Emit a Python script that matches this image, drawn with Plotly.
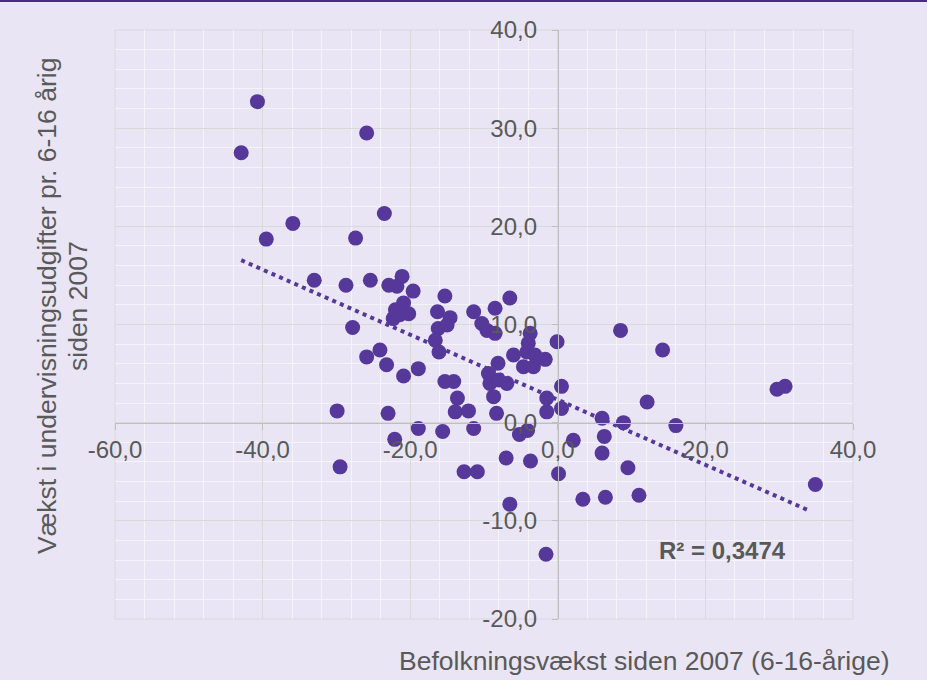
import numpy as np
import plotly.graph_objects as go

# Befolkningsvækst siden 2007 (6-16-årige), pct.
x_growth = [
    -42.9, -40.7, -39.5, -35.9, -33.0, -28.7, -29.9, -29.5, -27.8, -27.4,
    -25.9, -25.4, -25.9, -24.1, -23.5, -23.2, -23.0, -22.9, -21.8, -21.1,
    -22.1, -20.9, -22.0, -20.2, -22.3, -21.4, -19.6, -20.9, -18.9, -18.9,
    -16.3, -15.3, -14.6, -16.2, -15.0, -16.6, -16.1, -15.3, -14.1, -15.6,
    -13.6, -13.9, -12.1, -11.4, -12.7, -10.9, -11.4, -8.5, -6.5, -10.3,
    -9.6, -8.5, -9.4, -9.2, -8.0, -6.9, -8.1, -8.7, -8.3, -7.0,
    -6.5, -6.0, -3.75, -4.0, -4.2, -3.1, -1.7, -4.65, -3.3, -0.1,
    -1.5, -1.5, 0.5, 0.5, -5.2, -4.1, -3.7, 0.1, -1.6, 2.1,
    3.4, 6.0, 6.3, 6.0, 6.45, 8.9, 8.5, 9.5, 11.0, 12.1,
    14.2, 16.0, 29.7, 30.8, 34.9,
]
# Vækst i undervisningsudgifter pr. 6-16 årig siden 2007, pct.
y_spend = [
    27.5, 32.7, 18.7, 20.3, 14.5, 14.0, 1.2, -4.5, 9.7, 18.8,
    29.5, 14.5, 6.7, 7.4, 21.3, 5.9, 0.95, 14.0, 13.9, 14.9,
    -1.7, 12.2, 11.5, 11.1, 10.6, 11.0, 13.4, 4.75, 5.5, -0.6,
    11.3, 12.9, 10.7, 9.6, 9.95, 8.4, 7.2, 4.2, 4.2, -0.9,
    2.5, 1.1, 1.2, -0.6, -5.0, -5.0, 11.3, 11.65, 12.7, 10.1,
    9.4, 9.1, 5.0, 4.0, 4.35, 4.0, 6.05, 2.65, 0.95, -3.6,
    -8.3, 6.9, 9.1, 8.1, 7.2, 6.9, 6.45, 5.7, 5.7, 8.25,
    2.5, 1.1, 3.7, 1.45, -1.2, -0.8, -3.9, -5.2, -13.4, -1.8,
    -7.8, 0.45, -1.4, -3.1, -7.6, 0.0, 9.4, -4.6, -7.4, 2.1,
    7.4, -0.3, 3.4, 3.7, -6.3,
]

x_tick_vals = [-60, -40, -20, 0, 20, 40]
x_tick_text = ["-60,0", "-40,0", "-20,0", "0,0", "20,0", "40,0"]
y_tick_vals = [-20, -10, 0, 10, 20, 30, 40]
y_tick_text = ["-20,0", "-10,0", "0,0", "10,0", "20,0", "30,0", "40,0"]

x_title = "Befolkningsvækst siden 2007 (6-16-årige)"
y_title_lines = ["Vækst i undervisningsudgifter pr. 6-16 årig", "siden 2007"]
r2_label = "R² = 0,3474"

PURPLE = "#55389A"
BG = "#E9E5F4"
TXT = "#595959"
FONT = "Liberation Sans, Arial, sans-serif"

xa = np.array(x_growth)
ya = np.array(y_spend)
slope, intercept = np.polyfit(xa, ya, 1)
trend_x = np.array([xa.min(), xa.max() - 0.8])
trend_y = slope * trend_x + intercept

fig = go.Figure()
fig.add_trace(go.Scatter(
    x=trend_x, y=trend_y, mode="lines",
    line=dict(color=PURPLE, width=4, dash="4px,4.3px"),
    hoverinfo="skip", showlegend=False,
))
fig.add_trace(go.Scatter(
    x=x_growth, y=y_spend, mode="markers",
    marker=dict(color=PURPLE, size=15, line=dict(width=0)),
    showlegend=False,
))

xmin, xmax = -60, 40
ymin, ymax = -20, 40

# figure fills the whole page (body margin removed by post_script)
W, H = 927, 680
L, T, PW, PH = 115, 30, 738, 589


def px_x(px):
    return (px - L) / PW


def px_y(py):
    return (T + PH - py) / PH


fig.update_layout(
    width=W, height=H,
    margin=dict(l=L, r=W - L - PW, t=T, b=H - T - PH, pad=0),
    paper_bgcolor=BG, plot_bgcolor=BG,
    font=dict(family=FONT, color=TXT, size=24),
    xaxis=dict(
        range=[xmin, xmax], domain=[0, 1],
        anchor="free", position=(0 - ymin) / (ymax - ymin),
        tickvals=x_tick_vals, ticktext=x_tick_text,
        showgrid=True, gridcolor="#D9D9D9", gridwidth=1,
        minor=dict(dtick=4, tick0=0, showgrid=True, gridcolor="#F4F3F8", gridwidth=1),
        zeroline=False,
        showline=True, linecolor="#BFBFBF", linewidth=1,
        ticks="outside", ticklen=6, tickcolor="#BFBFBF", tickwidth=1,
        ticklabelstandoff=0,
        tickfont=dict(family=FONT, color=TXT, size=24),
        fixedrange=True,
    ),
    yaxis=dict(
        range=[ymin, ymax], domain=[0, 1],
        anchor="free", position=(0 - xmin) / (xmax - xmin),
        tickvals=y_tick_vals, ticktext=y_tick_text,
        showgrid=True, gridcolor="#D9D9D9", gridwidth=1,
        minor=dict(dtick=2, tick0=0, showgrid=True, gridcolor="#F4F3F8", gridwidth=1),
        zeroline=False,
        showline=True, linecolor="#BFBFBF", linewidth=1,
        ticks="outside", ticklen=6, tickcolor="#BFBFBF", tickwidth=1,
        ticklabelstandoff=10,
        tickfont=dict(family=FONT, color=TXT, size=24),
        fixedrange=True,
    ),
    shapes=[
        dict(type="rect", xref="paper", yref="paper", x0=0, x1=1, y0=0, y1=1,
             line=dict(color="#D9D9D9", width=1), layer="between"),
        dict(type="rect", xref="paper", yref="paper",
             x0=px_x(0), x1=px_x(927),
             y0=px_y(2), y1=px_y(0),
             line=dict(width=0), fillcolor="#4B2A86", layer="above"),
    ],
    annotations=[
        dict(text=x_title, xref="paper", yref="paper",
             x=px_x(892), y=px_y(661),
             xanchor="right", yanchor="middle", showarrow=False,
             font=dict(family=FONT, color=TXT, size=26.5)),
        dict(text=y_title_lines[0], xref="paper", yref="paper",
             x=px_x(47), y=px_y(306),
             xanchor="center", yanchor="middle", textangle=-90,
             showarrow=False,
             font=dict(family=FONT, color=TXT, size=26.5)),
        dict(text=y_title_lines[1], xref="paper", yref="paper",
             x=px_x(78), y=px_y(306),
             xanchor="center", yanchor="middle", textangle=-90,
             showarrow=False,
             font=dict(family=FONT, color=TXT, size=26.5)),
        dict(text="<b>" + r2_label + "</b>", xref="paper", yref="paper",
             x=px_x(722), y=px_y(550),
             xanchor="center", yanchor="middle", showarrow=False,
             font=dict(family=FONT, color=TXT, size=24)),
    ],
)

fig.write_html(
    "out.html",
    config={"displayModeBar": False},
    post_script="document.body.style.margin='0';document.body.style.overflow='hidden';",
)
